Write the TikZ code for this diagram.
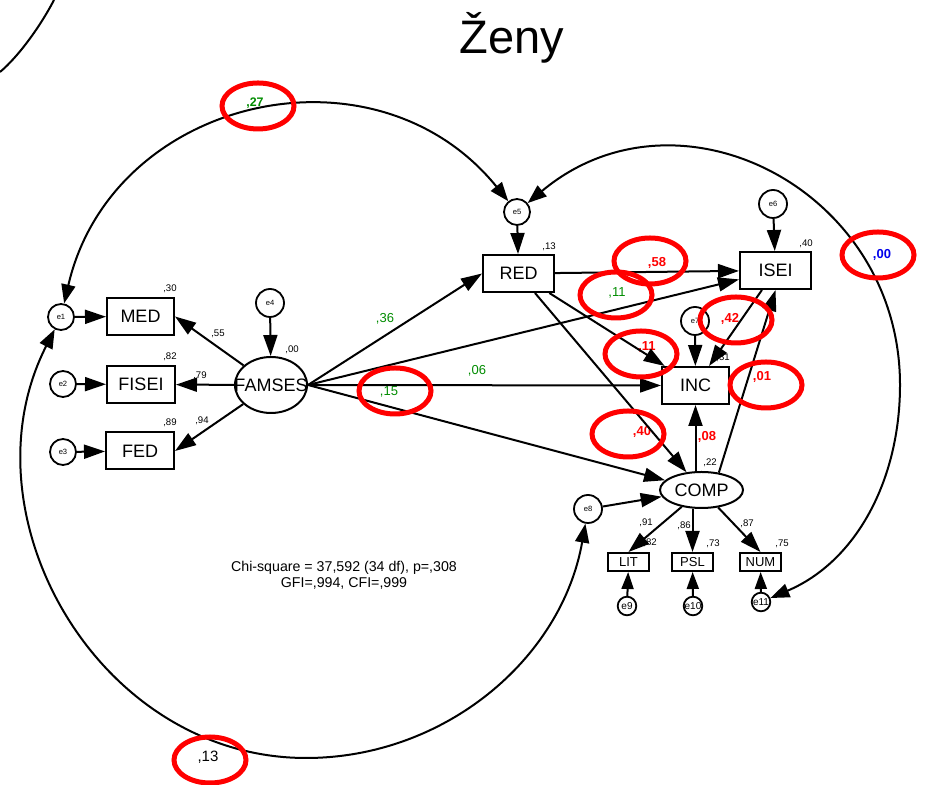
\documentclass[tikz,border=0pt]{standalone}
\usepackage{fontspec}
\setmainfont{Liberation Sans}
\usetikzlibrary{arrows.meta,shapes.geometric}
\definecolor{amosgreen}{RGB}{0,140,0}
\definecolor{amosblue}{RGB}{0,0,235}
\tikzset{
  obs/.style={draw, line width=1pt, minimum width=#1, minimum height=18.5pt, inner sep=0pt, font=\fontsize{9}{10}\selectfont},
  obs/.default=34pt,
  ind/.style={draw, line width=1pt, minimum width=20.5pt, minimum height=9pt, inner sep=0pt, font=\fontsize{6.5}{7}\selectfont},
  lat/.style={draw, ellipse, line width=1pt, inner sep=0pt, label={[font=\fontsize{9}{10}\selectfont]center:#1}},
  err/.style={draw, circle, line width=0.9pt, minimum size=#1, inner sep=0pt, font=\fontsize{3.8}{4}\selectfont},
  err/.default=13pt,
  arr/.style={line width=1pt, -{Triangle[length=10.5pt, width=7pt]}},
  cov/.style={line width=1pt, {Triangle[length=9.5pt, width=7pt]}-{Triangle[length=9.5pt, width=7pt]}},
  r2/.style={font=\fontsize{4.8}{5}\selectfont, inner sep=0pt},
  est/.style={font=\fontsize{6.5}{7}\selectfont, inner sep=0pt, text=#1},
  ring/.style={draw=red, line width=2.5pt, ellipse, minimum width=36pt, minimum height=23pt}
}

\begin{document}
\begin{tikzpicture}[x=0.5pt, y=0.5pt]
\useasboundingbox (0,0) rectangle (925,785);
\node[font=\fontsize{23.5}{26}\selectfont] (title) at (512,747) {Ženy};
\draw[line width=1pt] (0,713) .. controls (18,728) and (40,758) .. (54,785);

\node[err] (e1) at (61,468) {e1};
\node[err] (e2) at (63,401) {e2};
\node[err] (e3) at (63,333) {e3};
\node[obs=33.5pt] (MED) at (140.5,468.5) {MED};
\node[obs] (FISEI) at (141,400.5) {FISEI};
\node[obs] (FED) at (140,334) {FED};
\node[lat=FAMSES, minimum width=36pt, minimum height=28pt] (FAMSES) at (271,400) {};
\node[err=14pt] (e4) at (270,482) {e4};
\node[err] (e5) at (517,573) {e5};
\node[obs=35.5pt] (RED) at (518.5,511.5) {RED};
\node[err=14pt] (e6) at (773,581) {e6};
\node[obs=35.5pt] (ISEI) at (775.5,514.5) {ISEI};
\node[err=14pt] (e7) at (695,464) {e7};
\node[obs=33.5pt] (INC) at (695.5,399.5) {INC};
\node[lat=COMP, minimum width=41.5pt, minimum height=18pt] (COMP) at (701.5,295) {};
\node[err=14pt] (e8) at (588,276) {e8};
\node[ind] (LIT) at (628.5,223) {LIT};
\node[ind] (PSL) at (692.5,223) {PSL};
\node[ind] (NUM) at (760.5,223) {NUM};
\node[err=9.3pt, font=\fontsize{5}{5}\selectfont] (e9) at (627,179) {e9};
\node[err=9.3pt, font=\fontsize{5}{5}\selectfont] (e10) at (693,179) {e10};
\node[err=9.3pt, font=\fontsize{5}{5}\selectfont] (e11) at (761,183) {e11};
\coordinate (lowarc) at (306,27);
\coordinate (rightarc) at (900,400);

\node[r2] (rMED) at (170,496) {,30};
\node[r2] (rFISEI) at (170,428) {,82};
\node[r2] (rFED) at (170,362) {,89};
\node[r2] (rFAMSES) at (292,435) {,00};
\node[r2] (rRED) at (549,538) {,13};
\node[r2] (rISEI) at (806,541) {,40};
\node[r2] (rINC) at (723,427) {,31};
\node[r2] (rCOMP) at (710,322) {,22};
\node[r2] (rLIT) at (650,242) {,82};
\node[r2] (rPSL) at (713,241) {,73};
\node[r2] (rNUM) at (782,241) {,75};
\node[r2] (wMED) at (218,451) {,55};
\node[r2] (wFISEI) at (200,409) {,79};
\node[r2] (wFED) at (202,364) {,94};
\node[r2] (wLIT) at (646,262) {,91};
\node[r2] (wPSL) at (684,259) {,86};
\node[r2] (wNUM) at (747,261) {,87};
\node[est=amosgreen] (pFR) at (385,466) {,36};
\node[est=amosgreen] (pFI) at (477,414) {,06};
\node[est=amosgreen] (pFC) at (389,393) {,15};
\node[est=amosgreen] (pFS) at (617,492) {,11};
\node[est=red, font=\fontsize{6.5}{7}\selectfont\bfseries] (pRS) at (657,522) {,58};
\node[est=red, font=\fontsize{6.5}{7}\selectfont\bfseries] (pRI) at (647,438) {,11};
\node[est=red, font=\fontsize{6.5}{7}\selectfont\bfseries] (pSI) at (730,466) {,42};
\node[est=red, font=\fontsize{6.5}{7}\selectfont\bfseries] (pCS) at (762,408) {,01};
\node[est=red, font=\fontsize{6.5}{7}\selectfont\bfseries] (pRC) at (642,353) {,40};
\node[est=red, font=\fontsize{6.5}{7}\selectfont\bfseries] (pCI) at (707,348) {,08};
\node[est=amosgreen, font=\fontsize{6.2}{7}\selectfont\bfseries] (k15) at (255,682) {,27};
\node[est=amosblue, font=\fontsize{6.5}{7}\selectfont\bfseries] (k511) at (882,530) {,00};
\node[est=black, font=\fontsize{7.5}{8}\selectfont] (k18) at (208,28) {,13};
\node[font=\fontsize{7.1}{8}\selectfont, align=center] (fit) at (344,210) {Chi-square = 37,592 (34 df), p=,308\\GFI=,994, CFI=,999};

\draw[arr] (e1) -- (MED);
\draw[arr] (e2) -- (FISEI);
\draw[arr] (e3) -- (FED);
\draw[arr] (e4) -- (FAMSES);
\draw[arr] (FAMSES) -- (MED.east);
\draw[arr] (FAMSES) -- (FISEI);
\draw[arr] (FAMSES) -- (FED.east);
\draw[arr] (FAMSES.east) -- (RED.west);
\draw[arr] (FAMSES.east) -- (ISEI);
\draw[arr] (FAMSES.east) -- (INC.west);
\draw[arr] (FAMSES.east) -- (COMP);
\draw[arr] (e5) -- (RED);
\draw[arr] (RED) -- (ISEI);
\draw[arr] (RED) -- (INC);
\draw[arr] (RED) -- (COMP);
\draw[arr] (e6) -- (ISEI);
\draw[arr] (e7) -- (INC);
\draw[arr] (ISEI) -- (INC);
\draw[arr] (COMP.45) -- (ISEI.south);
\draw[arr] (INC.south |- COMP.north) -- (INC.south);
\draw[arr] (e8) -- (COMP);
\draw[arr] (COMP) -- (LIT.north);
\draw[arr] (PSL.north |- COMP.south) -- (PSL.north);
\draw[arr] (COMP) -- (NUM.north);
\draw[arr, -{Triangle[length=8.5pt, width=6pt]}] (e9) -- (LIT);
\draw[arr, -{Triangle[length=8.5pt, width=6pt]}] (e10) -- (PSL);
\draw[arr, -{Triangle[length=8.5pt, width=6pt]}] (e11) -- (NUM);
\draw[cov] (e1) to[out=77, in=129, distance=106pt] (e5);
\draw[cov] (e1) to[out=243, in=180, distance=104pt] (lowarc) to[out=0, in=260, distance=69pt] (e8);
\draw[cov] (e5) to[out=40, in=90, distance=98pt] (rightarc) to[out=270, in=23, distance=47pt] (e11);

\node[ring] (c27) at (258,679) {};
\node[ring] (c58) at (650,524) {};
\node[ring] (c11g) at (616,490) {};
\node[ring] (c11r) at (641,431) {};
\node[ring] (c42) at (736,465) {};
\node[ring] (c01) at (766,400) {};
\node[ring] (c00) at (878,530) {};
\node[ring] (c40) at (628,351) {};
\node[ring] (c15) at (395,394) {};
\node[ring] (c13) at (210,25) {};
\end{tikzpicture}
\end{document}
